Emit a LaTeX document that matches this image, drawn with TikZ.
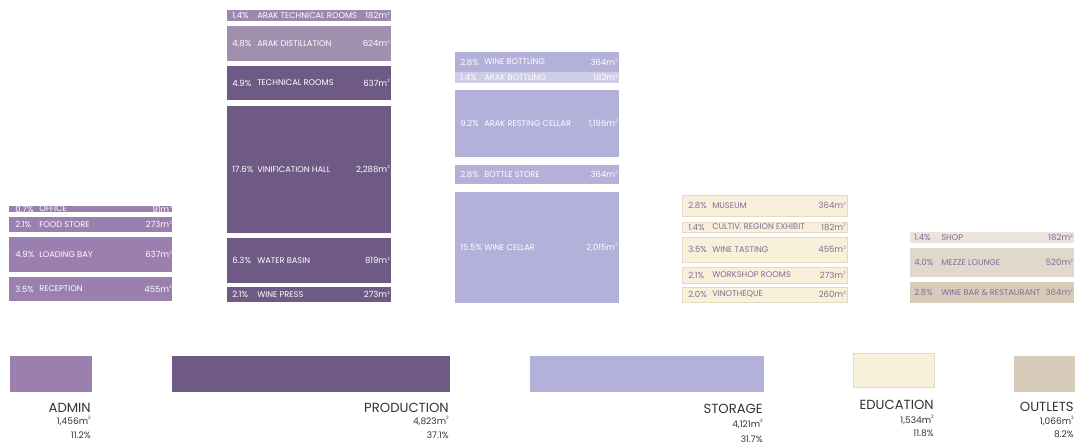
\documentclass[tikz,border=0pt]{standalone}
\usepackage{fontspec}
\setmainfont{Poppins}

\definecolor{admin}{HTML}{9B7FAE}
\definecolor{prod}{HTML}{6F5A85}
\definecolor{prodtech}{HTML}{9C87AE}
\definecolor{proddist}{HTML}{A08FAE}
\definecolor{stor}{HTML}{B3B0D9}
\definecolor{storlt}{HTML}{CFCCE7}
\definecolor{edu}{HTML}{F8F0DA}
\definecolor{eduedge}{HTML}{E4DAC2}
\definecolor{shop}{HTML}{E9E4DC}
\definecolor{mezze}{HTML}{E0D8CC}
\definecolor{winebar}{HTML}{D7CCBA}
\definecolor{palelab}{HTML}{7E6E95}
\definecolor{sumtext}{HTML}{333333}

\newcommand{\sqm}{m\raisebox{0.45em}{\scalebox{0.5}{2}}}

\tikzset{
  pct/.style={anchor=west, inner sep=0pt},
  rname/.style={anchor=west, inner sep=0pt, font=\fontsize{6.2}{7}\selectfont},
  rarea/.style={anchor=east, inner sep=0pt},
  biglab/.style={anchor=east, inner sep=0pt, text=sumtext, font=\fontsize{9.9}{11}\selectfont},
  sumlab/.style={anchor=east, inner sep=0pt, text=sumtext, font=\fontsize{6.8}{8}\selectfont}
}

\begin{document}
\begin{tikzpicture}[x=0.75pt, y=-0.75pt, font=\fontsize{6.4}{7}\selectfont]
\useasboundingbox (0,0) rectangle (1075,446);
% admin rooms
\begin{scope}[shift={(9,0)}, every node/.append style={text=white}]
  \foreach \ya/\yb/\col/\p/\name/\area [count=\i] in {
      206/212/admin/0.7/OFFICE/91,
      217/232/admin/2.1/FOOD STORE/273,
      237/272/admin/4.9/LOADING BAY/637,
      277/301/admin/3.5/RECEPTION/455} {
    \fill[\col] (0,\ya) rectangle (163,\yb);
    \node[pct] (adm-p\i) at (6,{(\ya+\yb)/2}) {\p\%};
    \node[rname] (adm-n\i) at (30,{(\ya+\yb)/2}) {\name};
    \node[rarea] (adm-a\i) at (163,{(\ya+\yb)/2}) {\area\sqm};
  }
\end{scope}
% production rooms
\begin{scope}[shift={(227,0)}, every node/.append style={text=white}]
  \foreach \ya/\yb/\col/\p/\name/\area [count=\i] in {
      10/21/prodtech/1.4/ARAK TECHNICAL ROOMS/182,
      26/61/proddist/4.8/ARAK DISTILLATION/624,
      66/100/prod/4.9/TECHNICAL ROOMS/637,
      106/233/prod/17.6/VINIFICATION HALL/{2,288},
      238/283/prod/6.3/WATER BASIN/819,
      287/302/prod/2.1/WINE PRESS/273} {
    \fill[\col] (0,\ya) rectangle (164,\yb);
    \node[pct] (prod-p\i) at (5,{(\ya+\yb)/2}) {\p\%};
    \node[rname] (prod-n\i) at (30,{(\ya+\yb)/2}) {\name};
    \node[rarea] (prod-a\i) at (163,{(\ya+\yb)/2}) {\area\sqm};
  }
\end{scope}
% storage rooms
\begin{scope}[shift={(455,0)}, every node/.append style={text=white}]
  \foreach \ya/\yb/\col/\p/\name/\area [count=\i] in {
      52/72/stor/2.8/WINE BOTTLING/364,
      72/83/storlt/1.4/ARAK BOTTLING/182,
      90/157/stor/9.2/ARAK RESTING CELLAR/{1,196},
      165/184/stor/2.8/BOTTLE STORE/364,
      192/303/stor/15.5/WINE CELLAR/{2,015}} {
    \fill[\col] (0,\ya) rectangle (164,\yb);
    \node[pct] (stor-p\i) at (5,{(\ya+\yb)/2}) {\p\%};
    \node[rname] (stor-n\i) at (29,{(\ya+\yb)/2}) {\name};
    \node[rarea] (stor-a\i) at (163,{(\ya+\yb)/2}) {\area\sqm};
  }
\end{scope}
% education rooms
\begin{scope}[shift={(682,0)}, every node/.append style={text=palelab}]
  \foreach \ya/\yb/\p/\name/\area [count=\i] in {
      195/216/2.8/MUSEUM/364,
      222/232/1.4/CULTIV. REGION EXHIBIT/182,
      237/262/3.5/WINE TASTING/455,
      267/283/2.1/WORKSHOP ROOMS/273,
      287/302/2.0/VINOTHEQUE/260} {
    \filldraw[fill=edu, draw=eduedge, line width=0.6pt] (0,\ya) rectangle (165,\yb);
    \node[pct] (edu-p\i) at (6,{(\ya+\yb)/2}) {\p\%};
    \node[rname] (edu-n\i) at (30,{(\ya+\yb)/2}) {\name};
    \node[rarea] (edu-a\i) at (164,{(\ya+\yb)/2}) {\area\sqm};
  }
\end{scope}
% outlets rooms
\begin{scope}[shift={(910,0)}, every node/.append style={text=palelab}]
  \foreach \ya/\yb/\col/\p/\name/\area [count=\i] in {
      232/243/shop/1.4/SHOP/182,
      248/277/mezze/4.0/MEZZE LOUNGE/520,
      282/303/winebar/2.8/WINE BAR \& RESTAURANT/364} {
    \fill[\col] (0,\ya) rectangle (164,\yb);
    \node[pct] (outl-p\i) at (4,{(\ya+\yb)/2}) {\p\%};
    \node[rname] (outl-n\i) at (31,{(\ya+\yb)/2}) {\name};
    \node[rarea] (outl-a\i) at (163,{(\ya+\yb)/2}) {\area\sqm};
  }
\end{scope}
% totals
\foreach \xa/\xb/\ya/\yb/\col/\edge/\name/\area/\p/\yl/\ym/\yp in {
    10/91/356/391/admin/admin/ADMIN/{1,456}/11.2/408/421/435,
    172/449/356/391/prod/prod/PRODUCTION/{4,823}/37.1/408/421/435,
    530/763/356/391/stor/stor/STORAGE/{4,121}/31.7/409/424/439,
    853/934/353/387/edu/eduedge/EDUCATION/{1,534}/11.8/405/420/433,
    1014/1074/356/391/winebar/winebar/OUTLETS/{1,066}/8.2/407/421/434} {
  \filldraw[fill=\col, draw=\edge, line width=0.6pt] (\xa,\ya) rectangle (\xb,\yb);
  \node[biglab] (\name-lab) at (\xb,\yl) {\name};
  \node[sumlab] (\name-area) at (\xb,\ym) {\area\sqm};
  \node[sumlab] (\name-pct) at (\xb,\yp) {\p\%};
}
\end{tikzpicture}
\end{document}
